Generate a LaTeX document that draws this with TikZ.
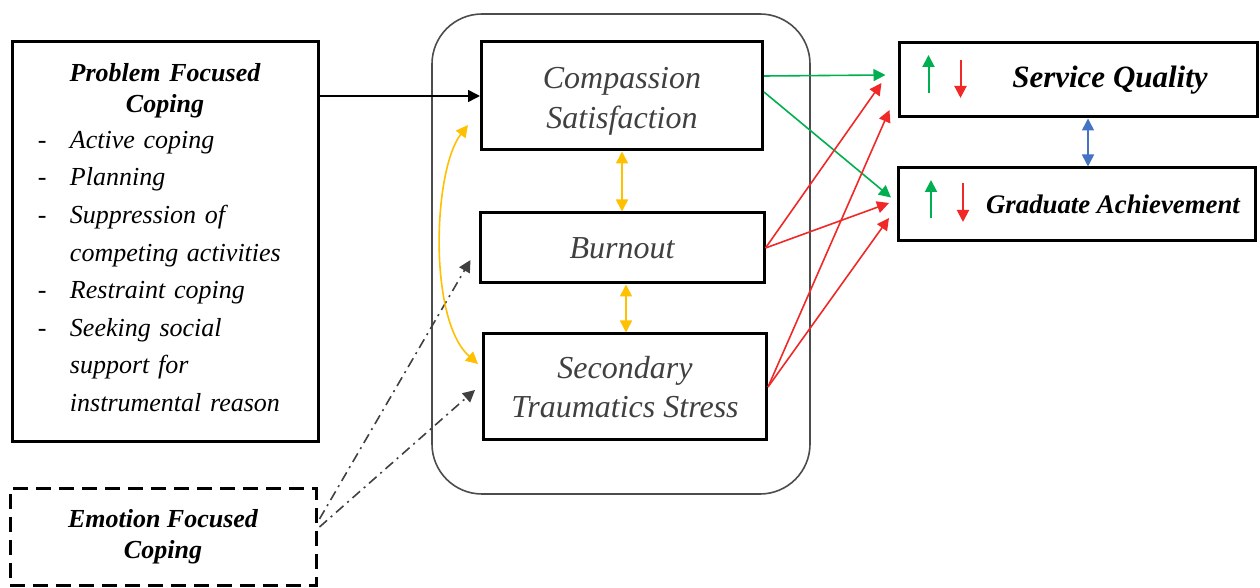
\documentclass[tikz,border=0pt]{standalone}
\usepackage{fontspec}
\setmainfont{Liberation Serif}
\usepackage{tikz}
\usetikzlibrary{positioning, arrows.meta}

\definecolor{posgreen}{RGB}{0,176,80}
\definecolor{negred}{RGB}{240,40,40}
\definecolor{linkgold}{RGB}{255,192,0}
\definecolor{linkblue}{RGB}{68,114,196}
\newcommand{\dashitem}{\makebox[16pt][l]{-}}

\begin{document}
\begin{tikzpicture}[x=0.5pt, y=-0.5pt, >={Triangle[length=6pt,width=6pt]}]
    \useasboundingbox (0,0) rectangle (1260,588);
    % Group frame
    \node[rectangle, draw, black!70, line width=0.8pt, rounded corners=25pt, minimum width=189pt, minimum height=240pt](group) at (621,254){};
    % Coping
    \node[rectangle, draw, line width=1.5pt, minimum width=153pt, minimum height=200pt, text width=127pt, inner xsep=13pt, align=left, font=\fontsize{13}{18.8}\selectfont\itshape](pfc) at (165,242){\makebox[127pt]{\bfseries Problem Focused}\\[-3.3pt]\makebox[127pt]{\bfseries Coping}\\[-1pt]
        \dashitem Active coping\\
        \dashitem Planning\\
        \dashitem Suppression of\\
        \hspace*{16pt}competing activities\\
        \dashitem Restraint coping\\
        \dashitem Seeking social\\
        \hspace*{16pt}support for\\
        \hspace*{16pt}instrumental reason\rule[-4.5pt]{0pt}{1pt}};
    \node[rectangle, draw, line width=1.5pt, dash pattern=on 7.5pt off 4pt, minimum width=153pt, minimum height=48pt, align=center, font=\fontsize{13}{15.5}\selectfont\bfseries\itshape](efc) at (163,537){Emotion Focused\\Coping};
    % Professional quality of life
    \node[rectangle, draw, line width=1.5pt, minimum width=140.5pt, minimum height=54pt, align=center, text=black!75, font=\fontsize{16}{20}\selectfont\itshape](cs) at (622,96){\rule{0pt}{15.5pt}Compassion\\Satisfaction};
    \node[rectangle, draw, line width=1.5pt, minimum width=142pt, minimum height=35pt, align=center, text=black!75, font=\fontsize{16}{20}\selectfont\itshape](bo) at (622,248){Burnout};
    \node[rectangle, draw, line width=1.5pt, minimum width=141.5pt, minimum height=53pt, align=center, text=black!75, font=\fontsize{16}{19.5}\selectfont\itshape](sts) at (625,387){Secondary\\Traumatics Stress};
    % Outcomes
    \node[rectangle, draw, line width=1.5pt, minimum width=179pt, minimum height=37pt, font=\fontsize{15.5}{18}\selectfont\bfseries\itshape](sq) at (1078,80){\hspace*{32pt}Service Quality};
    \node[rectangle, draw, line width=1.5pt, minimum width=178.5pt, minimum height=36.5pt, font=\fontsize{13.4}{15}\selectfont\bfseries\itshape](ga) at (1077,204.5){\hspace*{36pt}Graduate Achievement};
    % Up/down marks
    \draw[->, posgreen, line width=1pt] ([shift={(31,13)}]sq.west) -- ([shift={(31,-25)}]sq.west);
    \draw[->, negred, line width=1pt] ([shift={(63,-20)}]sq.west) -- ([shift={(63,18)}]sq.west);
    \draw[->, posgreen, line width=1pt] ([shift={(34,13.5)}]ga.west) -- ([shift={(34,-24.5)}]ga.west);
    \draw[->, negred, line width=1pt] ([shift={(66,-21.5)}]ga.west) -- ([shift={(66,17.5)}]ga.west);
    % Arrows
    \draw[->, line width=0.8pt] (pfc.east |- cs.west) -- (cs.west);
    \draw[->, black!75, line width=0.8pt, dash pattern=on 5pt off 2.5pt on 1pt off 2.5pt] ([shift={(2,-18)}]efc.east) -- ([shift={(-8,12)}]bo.west);
    \draw[->, black!75, line width=0.8pt, dash pattern=on 5pt off 2.5pt on 1pt off 2.5pt] ([shift={(2,-10)}]efc.east) -- ([shift={(-7,3)}]sts.west);
    \draw[<->, linkgold, line width=0.8pt] (cs.south) -- (bo.north);
    \draw[<->, linkgold, line width=0.8pt] ([xshift=2pt]bo.south) -- ([xshift=2pt]bo.south |- sts.north);
    \draw[<->, linkgold, line width=0.8pt] ([shift={(-12,29)}]cs.west) .. controls +(-35,45) and +(-50,-44) .. ([shift={(-4,-23)}]sts.west);
    \draw[->, posgreen, line width=0.8pt] ([yshift=10pt]cs.east) -- ([shift={(-12,-5)}]sq.west);
    \draw[->, posgreen, line width=0.8pt] ([yshift=2pt]cs.east) -- ([shift={(-6,-7)}]ga.west);
    \draw[->, negred, line width=0.8pt] (bo.east) -- ([shift={(-16,3)}]sq.west);
    \draw[->, negred, line width=0.8pt] (bo.east) -- ([shift={(-8,-1.5)}]ga.west);
    \draw[->, negred, line width=0.8pt] (sts.east) -- ([shift={(-8,30)}]sq.west);
    \draw[->, negred, line width=0.8pt] (sts.east) -- ([shift={(-8,13.5)}]ga.west);
    \draw[<->, linkblue, line width=0.8pt] ([xshift=5pt]sq.south) -- ([xshift=5pt]sq.south |- ga.north);
\end{tikzpicture}
\end{document}
